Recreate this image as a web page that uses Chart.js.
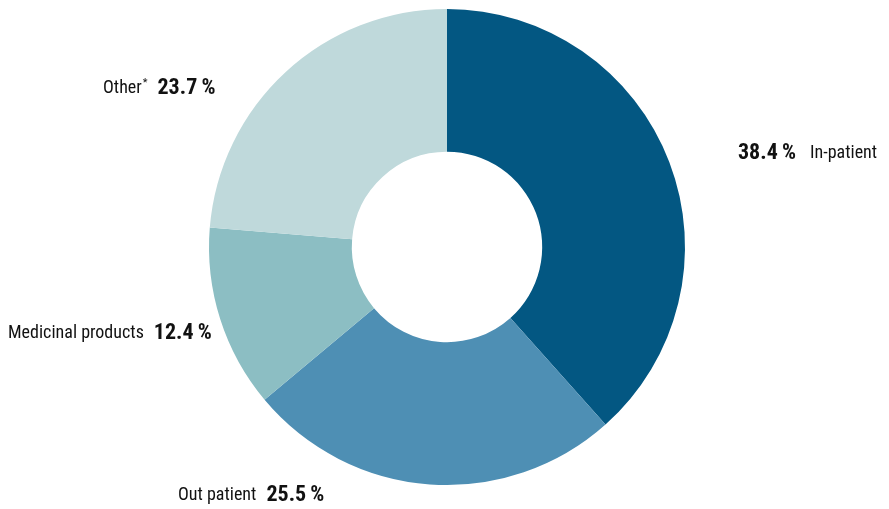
<!DOCTYPE html>
<html><head><meta charset="utf-8">
<script src="https://cdn.jsdelivr.net/npm/chart.js@4"></script>
<style>html,body{margin:0;padding:0;background:#fff}#w{width:889px;height:509px;position:relative}</style>
</head><body><div id="w"><canvas id="c"></canvas></div>
<script>
const categories = ["In-patient", "Out patient", "Medicinal products", "Other"];
const values = [38.4, 25.5, 12.4, 23.7];
const valueLabels = ["38.4\u2009%", "25.5\u2009%", "12.4\u2009%", "23.7\u2009%"];
const colors = ["#035782", "#4E8FB4", "#8CBEC3", "#BFD9DB"];
// label placement relative to the doughnut centre
const labelPlace = [
  {dx: 291, dy: -94, valueFirst: true, gap: 14},
  {dx: -269, dy: 248, valueFirst: false, gap: 10},
  {dx: -439, dy: 86, valueFirst: false, gap: 10},
  {dx: -344, dy: -159, valueFirst: false, gap: 10}
];
const FONT = '"Liberation Sans Narrow", "Roboto Condensed", "Liberation Sans", sans-serif';
const labelsPlugin = {
  id: 'outLabels',
  afterDraw(chart) {
    const ctx = chart.ctx;
    const meta = chart.getDatasetMeta(0);
    const arc0 = meta.data[0];
    const cx = arc0.x, cy = arc0.y;
    ctx.save();
    ctx.fillStyle = '#111';
    ctx.textBaseline = 'middle';
    ctx.textAlign = 'left';
    categories.forEach((cat, i) => {
      const p = labelPlace[i];
      let x = cx + p.dx, y = cy + p.dy;
      const regFont = '18px ' + FONT;
      const boldFont = 'bold 22px ' + FONT;
      const star = cat === 'Other';
      const drawName = () => {
        ctx.font = regFont;
        ctx.fillText(cat, x, y);
        x += ctx.measureText(cat).width;
        if (star) {
          ctx.font = '11px ' + FONT;
          ctx.fillText('*', x + 1, y - 5);
          x += ctx.measureText('*').width + 1;
        }
      };
      const drawVal = () => {
        ctx.font = boldFont;
        ctx.fillText(valueLabels[i], x, y + 0.5);
        x += ctx.measureText(valueLabels[i]).width;
      };
      if (p.valueFirst) { drawVal(); x += p.gap; drawName(); }
      else { drawName(); x += p.gap; drawVal(); }
    });
    ctx.restore();
  }
};
new Chart(document.getElementById('c'), {
  type: 'doughnut',
  data: { labels: categories, datasets: [{ data: values, backgroundColor: colors, borderWidth: 0 }] },
  options: {
    responsive: true, maintainAspectRatio: false, animation: false,
    cutout: '40%',
    layout: { padding: { top: 9, bottom: 24, left: 5, right: 0 } },
    plugins: { legend: { display: false }, tooltip: { enabled: false } }
  },
  plugins: [labelsPlugin]
});
</script></body></html>
